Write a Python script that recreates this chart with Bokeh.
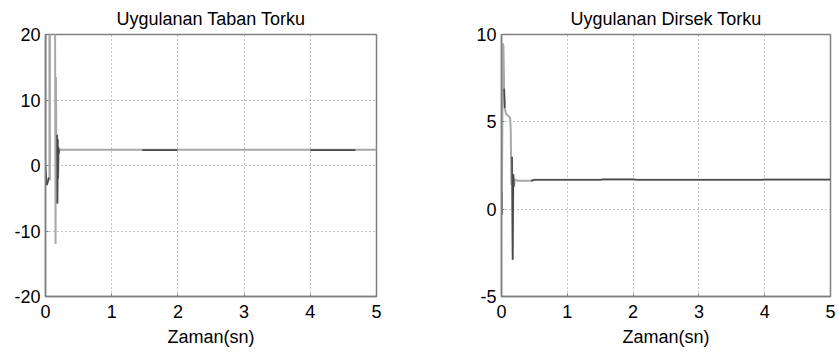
from bokeh.plotting import figure
from bokeh.layouts import row
from bokeh.models import FixedTicker, Range1d
from bokeh.embed import file_html
from bokeh.resources import INLINE

# --- Uygulanan Taban Torku (base joint torque) ---
taban_t = [0.0, 0.003, 0.055, 0.06, 0.066, 0.07, 0.135, 0.145, 0.152, 0.158,
           0.166, 0.175, 0.18, 0.185, 0.19, 0.2, 0.22, 0.3, 1.0, 2.0, 3.0, 4.0, 5.0]
taban_v = [0.0, 60.0, 60.0, -2.3, -2.0, 60.0, 60.0, 20.0, -12.0, 13.5,
           -3.0, 4.7, -5.8, 4.0, -2.0, 2.6, 2.4, 2.4, 2.4, 2.4, 2.4, 2.4, 2.4]
# darker overlay pieces of the same signal
taban_dark_t = [[0.0, 0.008, 0.02, 0.035, 0.05],
                [0.175, 0.18, 0.185, 0.19, 0.195, 0.2, 0.21],
                [1.46, 1.99],
                [4.0, 4.68]]
taban_dark_v = [[0.0, -1.2, -3.0, -2.6, -1.8],
                [4.7, -5.8, 4.0, -2.0, 2.8, 1.8, 2.4],
                [2.35, 2.35],
                [2.35, 2.35]]

# --- Uygulanan Dirsek Torku (elbow joint torque) ---
dirsek_t = [0.0, 0.005, 0.02, 0.03, 0.04, 0.05, 0.07, 0.1, 0.13, 0.14, 0.15,
            0.16, 0.17, 0.18, 0.19, 0.2, 0.25, 0.45, 0.5, 5.0]
dirsek_v = [1.0, -0.3, 9.5, 9.3, 6.9, 5.8, 5.45, 5.35, 5.25, 4.6, 1.4,
            3.0, -2.9, 2.0, 1.3, 1.7, 1.62, 1.62, 1.68, 1.68]
dirsek_dark_t = [[0.0, 0.005],
                 [0.04, 0.05],
                 [0.16, 0.17, 0.18, 0.19],
                 [0.45, 0.5, 1.5, 1.55, 2.0, 2.05, 3.95, 4.0, 5.0]]
dirsek_dark_v = [[1.0, -0.3],
                 [6.9, 5.8],
                 [3.0, -2.9, 2.0, 1.3],
                 [1.62, 1.68, 1.68, 1.71, 1.71, 1.68, 1.68, 1.70, 1.70]]

x_ticks = [0, 1, 2, 3, 4, 5]
taban_y_ticks = [-20, -10, 0, 10, 20]
dirsek_y_ticks = [-5, 0, 5, 10]

FONT = "Liberation Sans"
FRAME = "#808080"


def make_panel(title, t, v, dark_t, dark_v, y_lo, y_hi, y_ticks,
               width, left_border, right_border):
    p = figure(width=width, height=356, output_backend="svg",
               toolbar_location=None, title=title,
               x_range=Range1d(0, 5), y_range=Range1d(y_lo, y_hi),
               min_border_left=left_border, min_border_right=right_border,
               min_border_top=33, min_border_bottom=60)
    p.title.align = "center"
    p.title.text_font = FONT
    p.title.text_font_size = "18px"
    p.title.text_font_style = "normal"
    p.title.text_color = "black"
    p.title.standoff = 12

    p.outline_line_color = FRAME
    p.outline_line_width = 1.5
    p.background_fill_color = "white"
    p.border_fill_color = "white"

    p.xaxis.ticker = FixedTicker(ticks=x_ticks)
    p.yaxis.ticker = FixedTicker(ticks=y_ticks)
    # plain hyphen for negative tick labels
    p.yaxis.major_label_overrides = {tk: ("-%d" % -tk if tk < 0 else "%d" % tk)
                                     for tk in y_ticks}
    p.xaxis.axis_label = "Zaman(sn)"
    for ax in (p.xaxis, p.yaxis):
        ax.axis_line_color = FRAME
        ax.axis_line_width = 1.5
        ax.major_tick_in = 3
        ax.major_tick_out = 0
        ax.minor_tick_line_color = None
        ax.major_tick_line_color = FRAME
        ax.major_label_text_font = FONT
        ax.major_label_text_font_size = "18px"
        ax.major_label_text_color = "black"
        ax.axis_label_text_font = FONT
        ax.axis_label_text_font_size = "18px"
        ax.axis_label_text_font_style = "normal"
        ax.axis_label_text_color = "black"
    p.xaxis.major_label_standoff = 8
    p.xaxis.axis_label_standoff = 6
    p.yaxis.major_label_standoff = 5

    p.grid.grid_line_color = "#8a8a8a"
    p.grid.grid_line_dash = "1 3"
    p.grid.grid_line_width = 1

    p.line(t, v, line_color="#a8a8a8", line_width=2)
    p.multi_line(dark_t, dark_v, line_color="#4a4a4a", line_width=1.6)
    return p


p1 = make_panel("Uygulanan Taban Torku", taban_t, taban_v,
                taban_dark_t, taban_dark_v, -20, 20, taban_y_ticks,
                420, 45, 44)
p2 = make_panel("Uygulanan Dirsek Torku", dirsek_t, dirsek_v,
                dirsek_dark_t, dirsek_dark_v, -5, 10, dirsek_y_ticks,
                418, 81, 8)

layout = row(p1, p2)
open("out.html", "w").write(file_html(layout, INLINE))
